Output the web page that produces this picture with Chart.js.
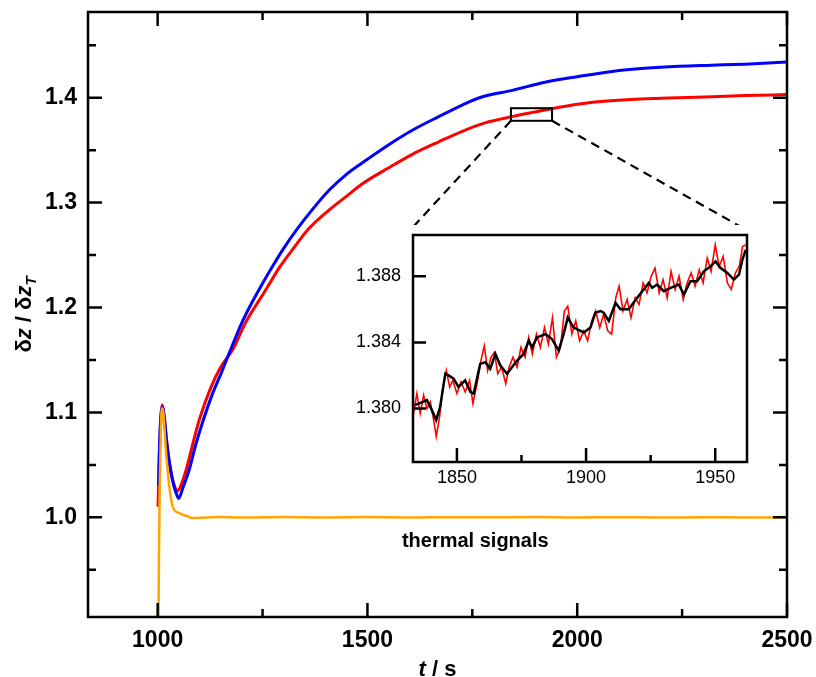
<!DOCTYPE html>
<html>
<head>
<meta charset="utf-8">
<script src="https://cdn.jsdelivr.net/npm/chart.js@4.4.1/dist/chart.umd.min.js"></script>
<style>
  body { margin: 0; background: #fff; }
  #wrap { position: relative; width: 816px; height: 677px; }
  #main { position: absolute; left: 0; top: 0; }
  #inset { position: absolute; left: 340px; top: 225px; background: #fff; }
</style>
</head>
<body>
<div id="wrap">
  <canvas id="main" width="816" height="677"></canvas>
  <canvas id="inset" width="420" height="270"></canvas>
</div>
<script>
'use strict';
// ── data: [t (s), δz/δz_T]
const blueSeries = [
  [1002,1.030],[1006,1.085],[1011,1.105],[1016,1.095],[1022,1.070],[1030,1.047],[1038,1.031],
  [1045,1.022],[1050,1.018],[1060,1.028],[1075,1.045],[1090,1.068],[1105,1.088],[1130,1.117],
  [1152,1.138],[1171,1.157],[1200,1.185],[1225,1.205],[1250,1.223],[1275,1.240],[1298,1.255],
  [1331,1.274],[1370,1.294],[1409,1.312],[1450,1.327],[1488,1.338],[1550,1.355],[1607,1.369],
  [1670,1.382],[1726,1.393],[1767,1.400],[1845,1.407],[1926,1.415],[2000,1.420],[2083,1.425],
  [2160,1.428],[2243,1.430],[2320,1.431],[2400,1.432],[2500,1.434]
];
const redSeries = [
  [1001,1.010],[1004,1.060],[1008,1.095],[1011,1.107],[1015,1.098],[1020,1.078],[1027,1.055],
  [1035,1.037],[1042,1.028],[1047,1.025],[1055,1.030],[1070,1.048],[1085,1.072],[1100,1.094],
  [1125,1.122],[1150,1.143],[1179,1.160],[1210,1.186],[1250,1.212],[1267,1.223],[1290,1.238],
  [1321,1.255],[1360,1.275],[1409,1.293],[1450,1.306],[1488,1.318],[1550,1.333],[1607,1.346],
  [1670,1.358],[1726,1.368],[1780,1.376],[1845,1.382],[1920,1.388],[2005,1.394],[2080,1.397],
  [2164,1.399],[2240,1.400],[2322,1.401],[2400,1.402],[2500,1.403]
];
const thermalSeries = [
  [1002,0.900],[1003,0.960],[1005,1.030],[1008,1.090],[1011,1.104],[1014,1.098],[1019,1.067],
  [1026,1.036],[1036,1.010],[1052,1.004],[1070,1.001],[1083,0.9993],[1100,0.9995],[1150,1.0003],
  [1200,0.9998],[1300,1.0004],[1400,0.9999],[1500,1.0003],[1600,0.9998],[1700,1.0002],
  [1800,1.0000],[1900,1.0003],[2000,0.9999],[2100,1.0002],[2200,0.9998],[2300,1.0001],
  [2400,0.9999],[2500,1.0000]
];
// inset: zoom on the red trace, 1833–1962 s
const insetRed = [
  [1833.2,1.3797],[1834.5,1.3809],[1835.8,1.3797],[1837.1,1.3808],[1838.4,1.3800],[1839.7,1.3804],
  [1841.0,1.3793],[1842.0,1.3783],[1843.3,1.3795],[1844.6,1.3813],[1845.9,1.3823],[1847.2,1.3813],
  [1848.4,1.3817],[1850.0,1.3809],[1851.6,1.3816],[1853.2,1.3810],[1854.9,1.3817],[1856.2,1.3803],
  [1857.8,1.3815],[1859.3,1.3829],[1860.6,1.3838],[1861.9,1.3823],[1863.2,1.3831],[1864.5,1.3834],
  [1865.8,1.3821],[1867.3,1.3825],[1868.9,1.3815],[1870.2,1.3825],[1871.7,1.3831],[1873.3,1.3825],
  [1874.8,1.3837],[1876.4,1.3831],[1877.8,1.3843],[1879.2,1.3833],[1880.8,1.3845],[1882.3,1.3837],
  [1883.9,1.3849],[1885.4,1.3839],[1887.0,1.3855],[1888.5,1.3831],[1890.1,1.3837],[1891.6,1.3859],
  [1892.9,1.3862],[1894.5,1.3845],[1896.0,1.3853],[1897.5,1.3841],[1899.1,1.3847],[1900.6,1.3841],
  [1902.2,1.3853],[1903.7,1.3859],[1905.3,1.3849],[1906.8,1.3857],[1908.4,1.3847],[1909.9,1.3845],
  [1911.5,1.3867],[1912.8,1.3874],[1914.3,1.3859],[1915.9,1.3866],[1917.4,1.3855],[1919.0,1.3867],
  [1920.5,1.3863],[1922.1,1.3876],[1923.6,1.3870],[1925.2,1.3880],[1926.7,1.3885],[1928.3,1.3870],
  [1929.8,1.3878],[1931.4,1.3867],[1932.9,1.3883],[1934.5,1.3872],[1936.0,1.3880],[1937.6,1.3866],
  [1939.1,1.3876],[1940.7,1.3882],[1942.2,1.3874],[1943.8,1.3884],[1945.3,1.3876],[1946.9,1.3891],
  [1948.4,1.3883],[1950.0,1.3899],[1951.5,1.3886],[1953.1,1.3892],[1954.7,1.3876],[1956.2,1.3872],
  [1957.8,1.3882],[1959.3,1.3886],[1960.6,1.3898],[1961.8,1.3899]
];
const insetSmooth = [
  [1833.8,1.3802],[1838.4,1.3805],[1840.3,1.3799],[1842.0,1.3793],[1843.5,1.3801],[1845.5,1.3821],
  [1846.8,1.3820],[1848.7,1.3818],[1850.6,1.3813],[1853.2,1.3817],[1855.2,1.3810],[1856.5,1.3809],
  [1859.0,1.3827],[1861.0,1.3828],[1862.9,1.3824],[1864.9,1.3833],[1866.8,1.3826],[1869.4,1.3821],
  [1871.3,1.3825],[1873.3,1.3829],[1875.8,1.3833],[1877.8,1.3841],[1879.1,1.3837],[1881.0,1.3843],
  [1884.3,1.3845],[1886.8,1.3842],[1889.4,1.3835],[1891.3,1.3845],[1892.9,1.3855],[1895.2,1.3849],
  [1899.1,1.3846],[1901.7,1.3849],[1903.6,1.3858],[1905.6,1.3859],[1906.8,1.3858],[1908.8,1.3853],
  [1911.4,1.3864],[1913.3,1.3860],[1916.5,1.3860],[1919.8,1.3867],[1922.3,1.3872],[1924.3,1.3876],
  [1925.6,1.3873],[1927.5,1.3875],[1930.1,1.3871],[1932.7,1.3873],[1935.9,1.3875],[1937.9,1.3869],
  [1940.4,1.3877],[1943.0,1.3877],[1945.6,1.3883],[1948.2,1.3886],[1950.1,1.3889],[1952.1,1.3885],
  [1954.7,1.3882],[1957.2,1.3878],[1959.2,1.3881],[1960.5,1.3890],[1961.8,1.3896]
];

// axes
const xMajor = [1000, 1500, 2000, 2500];
const xMinor = [1250, 1750, 2250];
const yMajor = [1.0, 1.1, 1.2, 1.3, 1.4];
const yMinor = [0.95, 1.05, 1.15, 1.25, 1.35, 1.45];
const insetXMajor = [1850, 1900, 1950];
const insetXMinor = [1875, 1925];
const insetYMajor = [1.380, 1.384, 1.388];
// zoom box marked on the main plot
const zoomBoxT = [1842, 1940];
const zoomBoxZ = [1.378, 1.390];
const noteText = 'thermal signals';
const notePos = [1757, 0.977];

const FONT = '"Liberation Sans", Arial, sans-serif';
Chart.defaults.font.family = FONT;
Chart.defaults.color = '#000';
Chart.defaults.animation = false;

const pts = arr => arr.map(p => ({ x: p[0], y: p[1] }));
const fixTicks = vals => s => { s.ticks = vals.map(v => ({ value: v })); };
// fixed axis box, no extra label padding pushed into the layout
const fitX = h => s => { s.height = h; s.paddingLeft = 0; s.paddingRight = 0; };
const fitY = w => s => { s.width = w; s.paddingTop = 0; s.paddingBottom = 0; };

function drawTicks(ctx, ca, xs, vals, len, sides) {
  vals.forEach(v => {
    const px = xs.getPixelForValue(v);
    if (sides.includes('b')) { ctx.moveTo(px, ca.bottom); ctx.lineTo(px, ca.bottom - len); }
    if (sides.includes('t')) { ctx.moveTo(px, ca.top); ctx.lineTo(px, ca.top + len); }
  });
}
function drawYTicks(ctx, ca, ys, vals, len, sides) {
  vals.forEach(v => {
    const py = ys.getPixelForValue(v);
    if (sides.includes('l')) { ctx.moveTo(ca.left, py); ctx.lineTo(ca.left + len, py); }
    if (sides.includes('r')) { ctx.moveTo(ca.right, py); ctx.lineTo(ca.right - len, py); }
  });
}

// ── inset chart (built first so the main chart can aim its dashed lines at it)
const insetEl = document.getElementById('inset');
const insetFrame = {
  id: 'insetFrame',
  afterDraw(chart) {
    const { ctx, chartArea: ca, scales: { x, y } } = chart;
    ctx.save();
    ctx.strokeStyle = '#000';
    ctx.lineWidth = 2.5;
    ctx.strokeRect(ca.left, ca.top, ca.right - ca.left, ca.bottom - ca.top);
    ctx.beginPath();
    drawTicks(ctx, ca, x, insetXMajor, 14, 'b');
    drawTicks(ctx, ca, x, insetXMinor, 7, 'b');
    drawYTicks(ctx, ca, y, insetYMajor, 13, 'l');
    ctx.stroke();
    ctx.restore();
  }
};
const insetChart = new Chart(insetEl, {
  type: 'scatter',
  data: {
    datasets: [
      { data: pts(insetSmooth), showLine: true, borderColor: '#000', borderWidth: 2.5, pointRadius: 0, clip: 0 },
      { data: pts(insetRed), showLine: true, borderColor: '#ff0000', borderWidth: 1.6, pointRadius: 0, clip: 0 }
    ]
  },
  options: {
    responsive: false,
    layout: { padding: { top: 10, right: 13, left: 0, bottom: 0 } },
    plugins: { legend: { display: false }, tooltip: { enabled: false } },
    scales: {
      x: {
        type: 'linear', min: 1833, max: 1962.3,
        grid: { display: false }, border: { display: false },
        ticks: { font: { size: 18 }, padding: -3, maxRotation: 0, autoSkip: false, callback: v => String(v) },
        afterBuildTicks: fixTicks(insetXMajor),
        afterFit: fitX(33)
      },
      y: {
        min: 1.37676, max: 1.3905,
        grid: { display: false }, border: { display: false },
        ticks: { font: { size: 18 }, padding: 4, callback: v => v.toFixed(3) },
        afterBuildTicks: fixTicks(insetYMajor),
        afterFit: fitY(73)
      }
    }
  },
  plugins: [insetFrame]
});

// ── main chart
const mainFrame = {
  id: 'mainFrame',
  afterDraw(chart) {
    const { ctx, chartArea: ca, scales: { x, y } } = chart;
    ctx.save();
    ctx.strokeStyle = '#000';
    ctx.lineWidth = 2.5;
    ctx.strokeRect(ca.left, ca.top, ca.right - ca.left, ca.bottom - ca.top);
    ctx.beginPath();
    drawTicks(ctx, ca, x, xMajor, 14, 'bt');
    drawTicks(ctx, ca, x, xMinor, 8, 'bt');
    drawYTicks(ctx, ca, y, yMajor, 14, 'lr');
    drawYTicks(ctx, ca, y, yMinor, 8, 'lr');
    ctx.stroke();

    // zoom box + dashed leaders to the inset
    const bx0 = x.getPixelForValue(zoomBoxT[0]), bx1 = x.getPixelForValue(zoomBoxT[1]);
    const by0 = y.getPixelForValue(zoomBoxZ[1]), by1 = y.getPixelForValue(zoomBoxZ[0]);
    ctx.lineWidth = 2;
    ctx.strokeRect(bx0, by0, bx1 - bx0, by1 - by0);
    const ia = insetChart.chartArea;
    const ox = insetEl.offsetLeft, oy = insetEl.offsetTop;
    ctx.setLineDash([9, 6]);
    ctx.lineWidth = 2.2;
    ctx.beginPath();
    ctx.moveTo(bx0, by1); ctx.lineTo(ox + ia.left, oy + ia.top - 8);
    ctx.moveTo(bx1, by1); ctx.lineTo(ox + ia.right - 4, oy + ia.top - 7);
    ctx.stroke();
    ctx.setLineDash([]);

    // note
    ctx.fillStyle = '#000';
    ctx.font = 'bold 20px ' + FONT;
    ctx.textAlign = 'center';
    ctx.textBaseline = 'middle';
    ctx.fillText(noteText, x.getPixelForValue(notePos[0]), y.getPixelForValue(notePos[1]));

    // x title: t / s
    ctx.textBaseline = 'alphabetic';
    ctx.textAlign = 'left';
    const fI = 'italic bold 22px ' + FONT, fB = 'bold 22px ' + FONT;
    ctx.font = fI; const wt = ctx.measureText('t').width;
    ctx.font = fB; const ws = ctx.measureText(' / s').width;
    const sx = (ca.left + ca.right) / 2 - (wt + ws) / 2;
    ctx.font = fI; ctx.fillText('t', sx, 676);
    ctx.font = fB; ctx.fillText(' / s', sx + wt, 676);

    // y title: δz / δz_T
    const parts = [['δ', fB], ['z', fI], [' / δ', fB], ['z', fI]];
    const fSub = 'italic bold 15px ' + FONT;
    let total = 0;
    parts.forEach(p => { ctx.font = p[1]; total += ctx.measureText(p[0]).width; });
    ctx.font = fSub; total += ctx.measureText('T').width;
    ctx.translate(31, (ca.top + ca.bottom) / 2);
    ctx.rotate(-Math.PI / 2);
    let cx = -total / 2;
    parts.forEach(p => { ctx.font = p[1]; ctx.fillText(p[0], cx, 0); cx += ctx.measureText(p[0]).width; });
    ctx.font = fSub; ctx.fillText('T', cx, 5);
    ctx.restore();
  }
};

const curve = { showLine: true, pointRadius: 0, clip: 0, cubicInterpolationMode: 'monotone' };
new Chart(document.getElementById('main'), {
  type: 'scatter',
  data: {
    datasets: [
      { ...curve, label: 'thermal', data: pts(thermalSeries), borderColor: '#ffa500', borderWidth: 2.5 },
      { ...curve, label: 'blue', data: pts(blueSeries), borderColor: '#0000ff', borderWidth: 3 },
      { ...curve, label: 'red', data: pts(redSeries), borderColor: '#ff0000', borderWidth: 3 }
    ]
  },
  options: {
    responsive: false,
    layout: { padding: { top: 12, right: 29, left: 0, bottom: 0 } },
    plugins: { legend: { display: false }, tooltip: { enabled: false } },
    scales: {
      x: {
        type: 'linear', min: 834, max: 2500,
        grid: { display: false }, border: { display: false },
        ticks: { font: { size: 23, weight: 'bold' }, padding: 2, maxRotation: 0, autoSkip: false, callback: v => String(v) },
        afterBuildTicks: fixTicks(xMajor),
        afterFit: fitX(60)
      },
      y: {
        min: 0.905, max: 1.4817,
        grid: { display: false }, border: { display: false },
        ticks: { font: { size: 23, weight: 'bold' }, padding: 3, callback: v => v.toFixed(1) },
        afterBuildTicks: fixTicks(yMajor),
        afterFit: fitY(88)
      }
    }
  },
  plugins: [mainFrame]
});
</script>
</body>
</html>
